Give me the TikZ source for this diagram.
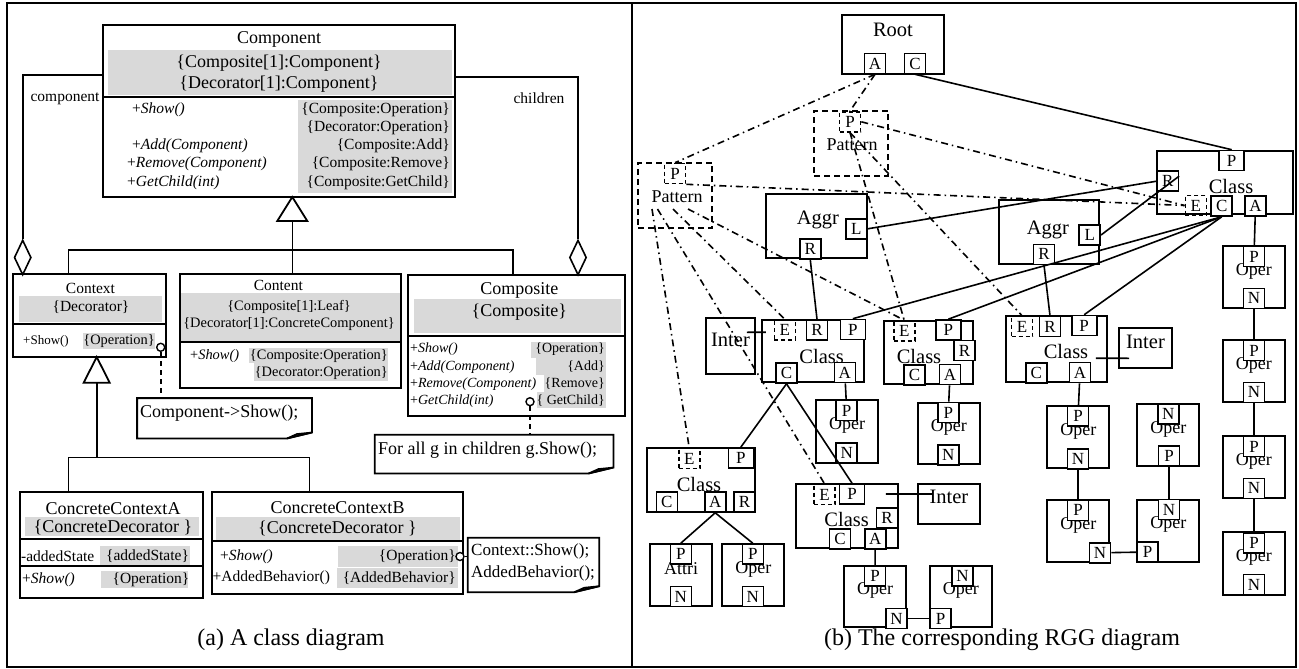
\documentclass[tikz,border=0pt]{standalone}
\usepackage{fontspec}
\setmainfont{Liberation Serif}
\usetikzlibrary{fit,shapes.geometric}

\definecolor{hlgray}{gray}{0.85}
\newcommand\fbig{\fontsize{18}{21}\selectfont}
\newcommand\fnote{\fontsize{17}{20}\selectfont}
\newcommand\fmid{\fontsize{15.5}{18}\selectfont}
\newcommand\fsml{\fontsize{14}{17}\selectfont}
\newcommand\fcnt{\fontsize{14.4}{17}\selectfont}
\newcommand\ftiny{\fontsize{13}{16}\selectfont}
\newcommand\fname{\fontsize{20.5}{24}\selectfont}
\newcommand\fop{\fontsize{18}{21}\selectfont}
\newcommand\fport{\fontsize{17}{20}\selectfont}
\newcommand\fcap{\fontsize{24}{28}\selectfont}

\begin{document}
\begin{tikzpicture}[x=1pt, y=-1pt,
    frame/.style = {line width=1.6pt},
    box/.style = {draw, line width=1.8pt, inner sep=0pt},
    opbox/.style = {box, font=\fop, text depth=0pt},
    dbox/.style = {box, dash pattern=on 6pt off 4pt},
    txt/.style = {inner sep=0pt},
    hl/.style = {fill=hlgray},
    link/.style = {line width=1.6pt},
    tie/.style = {line width=1.6pt, dash pattern=on 5pt off 4pt},
    rel/.style = {line width=1.6pt, dash pattern=on 7pt off 4pt on 1.5pt off 4pt},
    port/.style = {draw, line width=1.6pt, fill=white, inner sep=0pt, minimum width=21pt, minimum height=20pt, font=\fport},
    wide/.style = {port, minimum width=25pt},
    eport/.style = {port, fill=none, dash pattern=on 4pt off 3pt},
    dot/.style = {circle, draw, fill=white, line width=1.4pt, minimum size=8pt, inner sep=0pt},
    agg/.style = {diamond, draw, fill=white, line width=1.6pt, minimum width=17pt, minimum height=35pt, inner sep=0pt}]
\useasboundingbox (0,0) rectangle (1299,669);
\fill[white] (0,0) rectangle (1299,669);
\draw[frame] (7,3) rectangle (1296,667);
\draw[frame] (632,3) -- (632,667);

% (a) class diagram
\fill[hl] (108,50) rectangle (452,95);
\fill[hl] (298,100) rectangle (452,193);
\node[box, fit={(103,25) (455,197)}] (comp) {};
\draw[box] (103,97) -- (455,97);
\node[txt, font=\fbig] (compT) at (279,39) {Component};
\node[txt, font=\fbig] (compS1) at (279,63) {\{Composite[1]:Component\}};
\node[txt, font=\fbig] (compS2) at (279,84) {\{Decorator[1]:Component\}};
\node[txt, font=\fmid, anchor=west] (compM1) at (132,110) {+\textit{Show()}};
\node[txt, font=\fmid, anchor=west] (compM2) at (132,146) {+\textit{Add(Component)}};
\node[txt, font=\fmid, anchor=west] (compM3) at (127,164) {+\textit{Remove(Component)}};
\node[txt, font=\fmid, anchor=west] (compM4) at (127,183) {+\textit{GetChild(int)}};
\node[txt, font=\fmid, anchor=east] (compO1) at (450,110) {\{Composite:Operation\}};
\node[txt, font=\fmid, anchor=east] (compO2) at (450,128) {\{Decorator:Operation\}};
\node[txt, font=\fmid, anchor=east] (compO3) at (450,146) {\{Composite:Add\}};
\node[txt, font=\fmid, anchor=east] (compO4) at (450,164) {\{Composite:Remove\}};
\node[txt, font=\fmid, anchor=east] (compO5) at (450,183) {\{Composite:GetChild\}};

\fill[hl] (19,296) rectangle (162,321.7);
\fill[hl] (83.3,332.7) rectangle (155,349.3);
\node[box, fit={(13.3,274) (165.7,356.7)}] (ctx) {};
\draw[box] (13.3,324.3) -- (165.7,324.3);
\node[txt, font=\fmid] (ctxT) at (90.5,288) {Context};
\node[txt, font=\fmid] (ctxS) at (91,307) {\{Decorator\}};
\node[txt, font=\ftiny, anchor=west] (ctxM) at (23,341) {+Show()};
\node[txt, font=\fcnt, anchor=east] (ctxO) at (155,341) {\{Operation\}};
\node[dot] (ctxD) at (160.7,347.3) {};

\fill[hl] (181,293.3) rectangle (400,341);
\fill[hl] (249.3,348.3) rectangle (388.3,363.3);
\fill[hl] (254,363.3) rectangle (388.3,381);
\node[box, fit={(180,274) (401,387.7)}] (cnt) {};
\draw[box] (180,341.7) -- (401,341.7);
\node[txt, font=\fmid] (cntT) at (278.3,285) {Content};
\node[txt, font=\fcnt] (cntS1) at (289,306.7) {\{Composite[1]:Leaf\}};
\node[txt, font=\fcnt] (cntS2) at (289,324.3) {\{Decorator[1]:ConcreteComponent\}};
\node[txt, font=\fcnt, anchor=west] (cntM) at (190,356.3) {+\textit{Show()}};
\node[txt, font=\fcnt, anchor=east] (cntO1) at (388,356) {\{Composite:Operation\}};
\node[txt, font=\fcnt, anchor=east] (cntO2) at (388,373) {\{Decorator:Operation\}};

\fill[hl] (414,299) rectangle (620.7,332.7);
\fill[hl] (530.7,341.7) rectangle (606,358);
\fill[hl] (536,358) rectangle (606,375);
\fill[hl] (544,375) rectangle (606,392);
\fill[hl] (536.7,392) rectangle (606,408.3);
\node[box, fit={(408.3,275) (625,416)}] (cmp) {};
\draw[box] (408.3,336) -- (625,336);
\node[txt, font=\fbig] (cmpT) at (519.3,290) {Composite};
\node[txt, font=\fbig] (cmpS) at (519.3,311.7) {\{Composite\}};
\node[txt, font=\fsml, anchor=west] (cmpM1) at (410,349.3) {+\textit{Show()}};
\node[txt, font=\fsml, anchor=west] (cmpM2) at (410,366.7) {+\textit{Add(Component)}};
\node[txt, font=\fsml, anchor=west] (cmpM3) at (410,383.7) {+\textit{Remove(Component)}};
\node[txt, font=\fsml, anchor=west] (cmpM4) at (410,401) {+\textit{GetChild(int)}};
\node[txt, font=\fsml, anchor=east] (cmpO1) at (605,349.3) {\{Operation\}};
\node[txt, font=\fsml, anchor=east] (cmpO2) at (605,366.7) {\{Add\}};
\node[txt, font=\fsml, anchor=east] (cmpO3) at (605,383.7) {\{Remove\}};
\node[txt, font=\fsml, anchor=east] (cmpO4) at (605,401) {\{ GetChild\}};
\node[dot] (cmpD) at (530,401.7) {};

\fill[hl] (25,517.3) rectangle (199,535.7);
\fill[hl] (100,546) rectangle (190,565);
\fill[hl] (101,570.7) rectangle (187.7,588.3);
\node[box, fit={(20,492.3) (203.3,598.3)}] (cca) {};
\draw[box] (20,539.3) -- (203.3,539.3);
\draw[box] (20,566) -- (203.3,566);
\node[txt, font=\fbig] (ccaT) at (113,508.3) {ConcreteContextA};
\node[txt, font=\fbig] (ccaS) at (113,527.5) {\{ConcreteDecorator \}};
\node[txt, font=\fmid, anchor=west] (ccaA) at (21,556) {-addedState};
\node[txt, font=\fmid] (ccaV) at (147.5,556) {\{addedState\}};
\node[txt, font=\fmid, anchor=west] (ccaM) at (22,580) {+\textit{Show()}};
\node[txt, font=\fmid] (ccaO) at (151,580) {\{Operation\}};

\fill[hl] (216,517) rectangle (460,540);
\fill[hl] (338,546) rectangle (458,567);
\fill[hl] (336.7,568) rectangle (458,588);
\node[box, fit={(211.7,492.3) (463.3,594)}] (ccb) {};
\draw[box] (211.7,541) -- (463.3,541);
\node[txt, font=\fbig] (ccbT) at (337.5,508) {ConcreteContextB};
\node[txt, font=\fbig] (ccbS) at (337.5,528) {\{ConcreteDecorator \}};
\node[txt, font=\fmid, anchor=west] (ccbM1) at (220,556.7) {+\textit{Show()}};
\node[txt, font=\fmid, anchor=west] (ccbM2) at (212.5,577.7) {+AddedBehavior()};
\node[txt, font=\fmid, anchor=east] (ccbO1) at (456,556.5) {\{Operation\}};
\node[txt, font=\fmid, anchor=east] (ccbO2) at (456,577.7) {\{AddedBehavior\}};
\node[dot] (ccbD) at (460,556.5) {};

% notes
\node[txt, fit={(137.3,398.3) (311.7,438.3)}] (n1) {};
\draw[box] (n1.north west) -- (n1.north east) -- ([shift={(0,-6)}]n1.south east) -- ([shift={(-25,0)}]n1.south east) -- (n1.south west) -- cycle;
\draw[link, fill=black!60] ([shift={(-25,0)}]n1.south east) -- ([shift={(-15,-4.5)}]n1.south east) -- ([shift={(0,-6)}]n1.south east) -- cycle;
\node[txt, font=\fbig, anchor=west] (n1T) at (140,413.5) {Component->Show();};
\node[txt, fit={(375,435) (613.3,473.3)}] (n2) {};
\draw[box] (n2.north west) -- (n2.north east) -- ([shift={(0,-6)}]n2.south east) -- ([shift={(-25,0)}]n2.south east) -- (n2.south west) -- cycle;
\draw[link, fill=black!60] ([shift={(-25,0)}]n2.south east) -- ([shift={(-15,-4.5)}]n2.south east) -- ([shift={(0,-6)}]n2.south east) -- cycle;
\node[txt, font=\fbig, anchor=west] (n2T) at (378,450) {For all g in children g.Show();};
\node[txt, fit={(468,538) (599,592)}] (n3) {};
\draw[box] (n3.north west) -- (n3.north east) -- ([shift={(0,-6)}]n3.south east) -- ([shift={(-25,0)}]n3.south east) -- (n3.south west) -- cycle;
\draw[link, fill=black!60] ([shift={(-25,0)}]n3.south east) -- ([shift={(-15,-4.5)}]n3.south east) -- ([shift={(0,-6)}]n3.south east) -- cycle;
\node[txt, font=\fnote, anchor=west] (n3T1) at (471,551) {Context::Show();};
\node[txt, font=\fnote, anchor=west] (n3T2) at (471,573) {AddedBehavior();};
\draw[tie] (ctxD) -- (ctxD |- n1.north);
\draw[tie] (cmpD) -- (cmpD |- n2.north);
\draw[tie] (ccbD) -- (ccbD -| n3.west);

% aggregation and generalization
\node[agg] (dmL) at (22.7,257.5) {};
\node[agg] (dmR) at (578,257.5) {};
\draw[link] ([shift={(0,-36)}]comp.west) -| (dmL.north);
\draw[link] ([shift={(0,-34)}]comp.east) -| (dmR.north);
\node[txt, font=\fmid] (lblComp) at (65,98.5) {component};
\node[txt, font=\fmid] (lblChild) at (539,98.5) {children};

\coordinate (g1) at (292.3,197);
\draw[box, fill=white] (g1) -- ++(15,24) -- ++(-30,0) -- cycle;
\draw[link] ([yshift=-24pt]g1) -- (g1 |- cnt.north);
\draw[link] ([shift={(-21.2,0)}]ctx.north) -- ++(0,-23) -| ([shift={(-3.7,0)}]cmp.north);
\coordinate (g2) at (96.7,357);
\draw[box, fill=white] (g2) -- ++(13,25.7) -- ++(-26,0) -- cycle;
\draw[link] ([yshift=-25.7pt]g2) -- ++(0,75.6);
\draw[link] ([shift={(-43.3,0)}]cca.north) -- ++(0,-34) -| ([shift={(-28.2,0)}]ccb.north);

\node[txt, font=\fcap] (capA) at (291,639.5) {(a) A class diagram};

% (b) RGG diagram
\node[box, fit={(841.7,15) (944,74)}] (root) {};
\node[txt, font=\fname] (rootT) at (893,30) {Root};
\node[port] (rootA) at (875,63.5) {A};
\node[port] (rootC) at (915,63.5) {C};

\node[dbox, fit={(814,111) (888.3,176)}] (patT) {};
\node[eport, anchor=north] (patTP) at (850,111) {P};
\node[txt, font=\fop] (patTT) at (852,145) {Pattern};
\node[dbox, fit={(638.3,162.7) (712.3,228.3)}] (patL) {};
\node[eport, anchor=north] (patLP) at (675,162.7) {P};
\node[txt, font=\fop] (patLT) at (677,197) {Pattern};

\node[box, fit={(766,194.3) (866.7,258.3)}] (aggrL) {};
\node[txt, font=\fname] (aggrLT) at (818,220) {Aggr};
\node[port] (aggrLL) at (856.3,228.8) {L};
\node[port] (aggrLR) at (810.3,249.2) {R};
\node[box, fit={(999.3,200) (1099.3,264.3)}] (aggrR) {};
\node[txt, font=\fname] (aggrRT) at (1048,230) {Aggr};
\node[port] (aggrRL) at (1089.7,235) {L};
\node[port] (aggrRR) at (1044,254.3) {R};

\node[box, fit={(1157.3,150.7) (1293.3,214)}] (clsT) {};
\node[txt, font=\fname] (clsTT) at (1231,186.7) {Class};
\node[wide] (clsTP) at (1231.7,160.5) {P};
\node[port] (clsTR) at (1167.8,181.2) {R};
\node[eport] (clsTE) at (1195.8,205.5) {E};
\node[port] (clsTC) at (1221.7,206) {C};
\node[port] (clsTA) at (1255.5,206) {A};

\foreach \i/\y in {1/246,2/340,3/436,4/532.3} {
  \node[opbox, fit={(1222.7,\y) (1285,{\y+62.3})}] (opc\i) {Oper};
  \node[port] (opcP\i) at (1254,{\y+10.5}) {P};
  \node[port] (opcN\i) at (1254,{\y+52.3}) {N};
}

\node[box, font=\fname, fit={(706,318.3) (755,374.3)}] (il) {Inter};
\node[box, fit={(762.3,320) (864.3,382.3)}] (cl) {};
\node[txt, font=\fname] (clT) at (821.7,356) {Class};
\node[eport] (clE) at (784.8,330) {E};
\node[port] (clR) at (817,330) {R};
\node[wide] (clP) at (852.8,329.5) {P};
\node[port] (clC) at (786.5,373) {C};
\node[port] (clA) at (844.8,372.5) {A};
\node[opbox, fit={(816,400) (878.3,462.7)}] (ol) {Oper};
\node[port] (olP) at (846.7,410.5) {P};
\node[port] (olN) at (846.7,453) {N};

\node[box, fit={(884,320.7) (973.3,384.3)}] (cc) {};
\node[txt, font=\fname] (ccT) at (919,356) {Class};
\node[eport] (ccE) at (904.2,331) {E};
\node[wide] (ccP) at (948.3,330) {P};
\node[port] (ccR) at (964.5,350.5) {R};
\node[port] (ccC) at (914.5,375) {C};
\node[port] (ccA) at (950,374.5) {A};
\node[opbox, fit={(917.7,402.7) (980,464)}] (oc) {Oper};
\node[port] (ocP) at (948.3,412.5) {P};
\node[port] (ocN) at (948.3,455) {N};

\node[box, fit={(1005.7,316) (1107.3,382.3)}] (cm) {};
\node[txt, font=\fname] (cmT) at (1066,351.7) {Class};
\node[eport] (cmE) at (1022,326.5) {E};
\node[port] (cmR) at (1050,326.5) {R};
\node[wide] (cmP) at (1084.2,325.5) {P};
\node[port] (cmC) at (1036.2,373) {C};
\node[port] (cmA) at (1080,372.5) {A};
\node[box, font=\fname, fit={(1119.3,328.3) (1171.7,368.3)}] (ir) {Inter};
\node[opbox, fit={(1047.3,406) (1109.3,468.3)}] (om1) {Oper};
\node[port] (om1P) at (1078,416) {P};
\node[port] (om1N) at (1078,458.8) {N};
\node[opbox, fit={(1137.3,404.3) (1199.3,466)}] (on1) {Oper};
\node[port] (on1N) at (1168.3,414) {N};
\node[port] (on1P) at (1169,456) {P};
\node[opbox, fit={(1047.3,500) (1109.3,562.3)}] (om2) {Oper};
\node[port] (om2P) at (1078,510.3) {P};
\node[port] (om2N) at (1100,552.8) {N};
\node[opbox, fit={(1137.3,500) (1199.3,561.7)}] (on2) {Oper};
\node[port] (on2N) at (1169,509.5) {N};
\node[port] (on2P) at (1147.5,552) {P};

\node[box, fit={(646.7,448.3) (755,511.7)}] (cbl) {};
\node[txt, font=\fname] (cblT) at (699,484) {Class};
\node[eport] (cblE) at (689.2,458.5) {E};
\node[wide] (cblP) at (740.8,458) {P};
\node[port] (cblC) at (666.8,502) {C};
\node[port] (cblA) at (715.2,502) {A};
\node[port] (cblR) at (744.5,502) {R};
\node[opbox, fit={(650,544) (712.3,606)}] (att) {Attri};
\node[port] (attP) at (680.8,554) {P};
\node[port] (attN) at (680.8,596.5) {N};
\node[opbox, fit={(722.3,544) (784.3,606)}] (obl) {Oper};
\node[port] (oblP) at (752.8,554) {P};
\node[port] (oblN) at (752.8,596.5) {N};

\node[box, fit={(796,484) (898.3,548.3)}] (cb) {};
\node[txt, font=\fname] (cbT) at (846.7,519.3) {Class};
\node[eport] (cbE) at (824.5,494.5) {E};
\node[wide] (cbP) at (852,494) {P};
\node[port] (cbR) at (887,518) {R};
\node[port] (cbC) at (840,539) {C};
\node[port] (cbA) at (875.2,539) {A};
\node[box, font=\fname, fit={(917.7,484) (980,524)}] (ib) {Inter};
\node[opbox, fit={(844,565.7) (906,627.3)}] (ob1) {Oper};
\node[port] (ob1P) at (875,575.7) {P};
\node[port] (ob1N) at (896.5,618.5) {N};
\node[opbox, fit={(930,565.7) (991.7,627.3)}] (ob2) {Oper};
\node[port] (ob2N) at (962.5,576) {N};
\node[port] (ob2P) at (940.5,618.5) {P};

\node[txt, font=\fcap] (capB) at (1002,639.5) {(b) The corresponding RGG diagram};

% solid edges
\draw[link] (rootC.south) -- (clsTP.north);
\draw[link] (aggrLL.east) -- (clsTR.west);
\draw[link] (aggrRL.east) -- ([shift={(0,-5)}]clsTR.east);
\draw[link] (clsTC.south) -- (clP.north);
\draw[link] (clsTC.south) -- (ccP.north);
\draw[link] (clsTC.south) -- (cmP.north);
\draw[link] (aggrLR.south) -- (clR.north);
\draw[link] (aggrRR.south) -- (cmR.north);
\draw[link] (clC.south) -- (cblP.north);
\draw[link] (clC.south) -- (cbP.north);
\draw[link] (clsTA) -- (opcP1);
\foreach \a/\b in {1/2,2/3,3/4} \draw[link] (opcN\a) -- (opcP\b);
\draw[link] (clA) -- (olP);
\draw[link] (ccA) -- (ocP);
\draw[link] (cmA) -- (om1P);
\draw[link] (cbA) -- (ob1P);
\draw[link] (cblA.south) -- (attP.north);
\draw[link] (cblA.south) -- (oblP.north);
\draw[link] (om1N) -- (om2P);
\draw[link] (on1P) -- (on2N);
\draw[link] (om2N) -- (on2P);
\draw[link] (ob1N) -- (ob2P);
\draw[link] ([shift={(-9,-14)}]il.east) -- ([shift={(4.4,-18.9)}]cl.west);
\draw[link] ([shift={(-12.3,9.1)}]cm.east) -- ([shift={(10.7,10)}]ir.west);
\draw[link] ([shift={(-13.3,-22.2)}]cb.east) -- ([shift={(15,-10)}]ib.west);

% pattern edges
\coordinate (q1) at (652,209);
\coordinate (q2) at (657.5,209);
\coordinate (q3) at (673,209);
\coordinate (q4) at (688,209);
\draw[rel] (rootA.south) -- (patTP.north);
\draw[rel] (rootA.south) -- (patLP.north);
\draw[rel] (patTP.east) -- (clsTE.west);
\draw[rel] (patLP.south east) -- (clsTE.west);
\draw[rel] (patTP.south) -- (ccE.north);
\draw[rel] (patTP.south) -- (cmE.north);
\draw[rel] (q1) -- (cblE.north);
\draw[rel] (q2) -- (cbE.north);
\draw[rel] (q3) -- (clE.north);
\draw[rel] (q4) -- (ccE.north);
\end{tikzpicture}
\end{document}
